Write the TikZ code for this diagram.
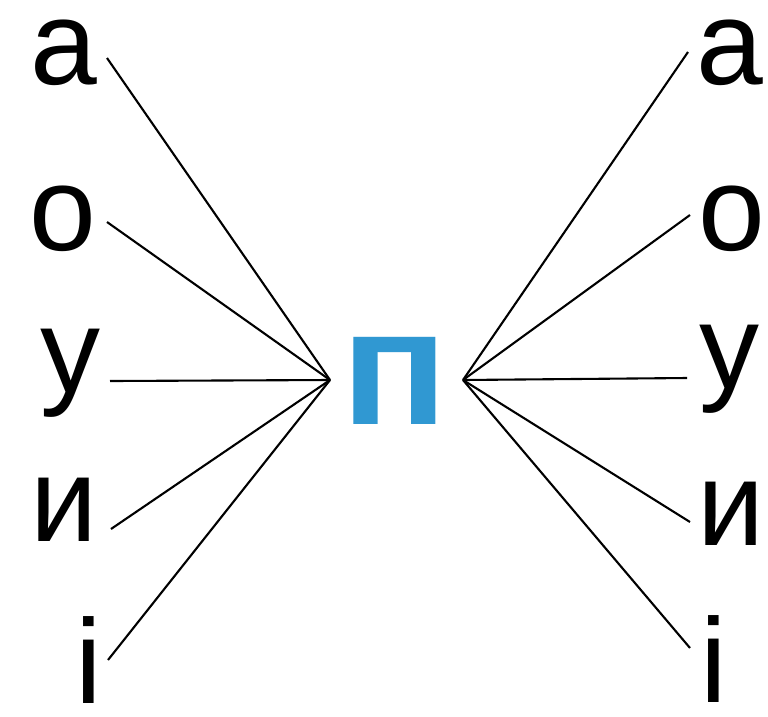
\documentclass[tikz,border=0pt]{standalone}
\usepackage{fontspec}
\setmainfont{Liberation Sans}
\definecolor{pblue}{RGB}{48,152,210}
\tikzset{
  letter/.style={inner sep=0pt, anchor=base, font=\fontsize{120}{120}\selectfont},
  bigp/.style={inner sep=0pt, anchor=center, text=pblue, xscale=1.07, font=\fontsize{165}{165}\selectfont\bfseries},
  link/.style={line width=2.1pt, black}
}
\begin{document}
\begin{tikzpicture}[x=1pt,y=-1pt]
\useasboundingbox (0,0) rectangle (768,716);
% left letters
\node[letter] (la) at (64,84) {а};
\node[letter] (lo) at (63,250) {о};
\node[letter] (lu) at (70,392) {у};
\node[letter] (li) at (64,541) {и};
\node[letter] (lii) at (89,703) {і};
% right letters
\node[letter] (ra) at (730,84) {а};
\node[letter] (ro) at (732,250) {о};
\node[letter] (ru) at (729,388) {у};
\node[letter] (ri) at (731,545) {и};
\node[letter] (rii) at (714,702) {і};
% centre letter
\node[bigp] (p) at (395,380.5) {п};
% line ends
\coordinate (cl) at (330,380);
\coordinate (cr) at (463,380);
\coordinate (ea) at (107,58);
\coordinate (eo) at (107,222);
\coordinate (eu) at (110,381);
\coordinate (ei) at (111,529);
\coordinate (eii) at (108,660);
\coordinate (fa) at (688,52);
\coordinate (fo) at (690,215);
\coordinate (fu) at (687,378);
\coordinate (fi) at (690,522);
\coordinate (fii) at (690,648);
\foreach \e in {ea,eo,eu,ei,eii} \draw[link] (\e) -- (cl);
\foreach \e in {fa,fo,fu,fi,fii} \draw[link] (cr) -- (\e);
\end{tikzpicture}
\end{document}
